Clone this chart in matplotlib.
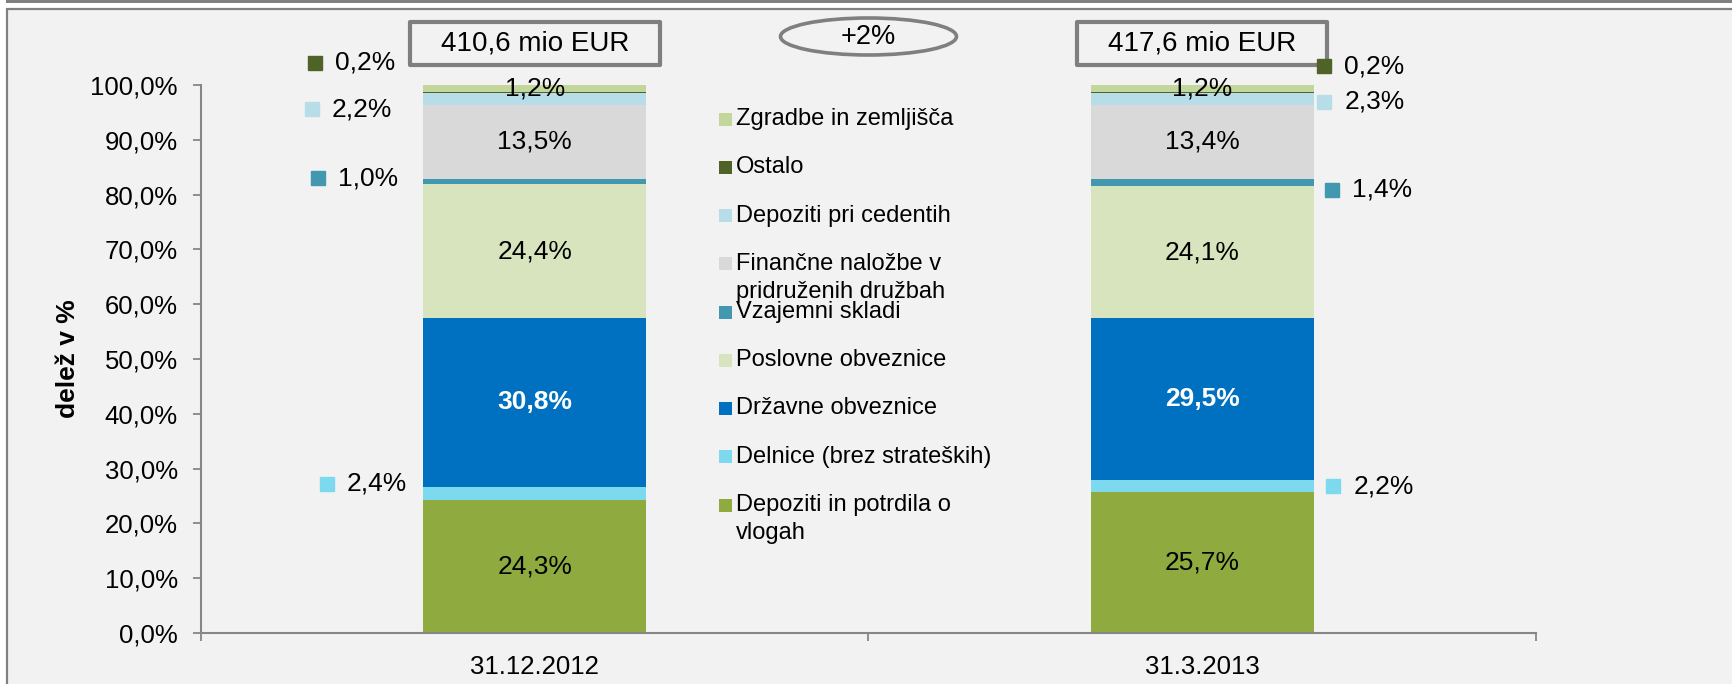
import numpy as np
import matplotlib.pyplot as plt
import matplotlib.transforms as mtransforms
from matplotlib.patches import Rectangle, Ellipse

plt.rcParams['font.family'] = ['Liberation Sans', 'DejaVu Sans']

# --- data (stack order: bottom -> top) ---
dates = ["31.12.2012", "31.3.2013"]
totals = ["410,6 mio EUR", "417,6 mio EUR"]
growth = "+2%"

series = ["Depoziti in potrdila o\nvlogah",
          "Delnice (brez strateških)",
          "Državne obveznice",
          "Poslovne obveznice",
          "Vzajemni skladi",
          "Finančne naložbe v\npridruženih družbah",
          "Depoziti pri cedentih",
          "Ostalo",
          "Zgradbe in zemljišča"]
dec_2012 = [24.3, 2.4, 30.8, 24.4, 1.0, 13.5, 2.2, 0.2, 1.2]
mar_2013 = [25.7, 2.2, 29.5, 24.1, 1.4, 13.4, 2.3, 0.2, 1.2]
colors = ["#8FAA3F", "#7DD9EE", "#0070C0", "#D7E4BD", "#4198AF",
          "#D9D9D9", "#B7DEE8", "#4F6228", "#C3D69B"]

# which segments get the label inside the bar
inside = [0, 2, 3, 5, 8]
bold_white = [2]
# outside labels: series index -> (x offset from bar centre in px, y level in %)
outside_pos = [
    {7: (-220, 104.1), 6: (-223, 95.6), 4: (-217, 83.0), 1: (-208, 27.2)},
    {7: (122, 103.4), 6: (122, 96.9), 4: (130, 80.9), 1: (131, 26.8)},
]

W, H = 1733, 684
fig = plt.figure(figsize=(W / 100, H / 100), dpi=100, facecolor="white")


def fx(px):
    return px / W


def fy(py):
    return 1 - py / H


# frame decoration (behind everything)
fig.add_artist(Rectangle((fx(6), fy(3.3)), fx(W), 3.3 / H, transform=fig.transFigure,
                         facecolor="#808080", edgecolor="none", zorder=-10))
fig.add_artist(Rectangle((fx(7), -0.05), fx(W), fy(9) + 0.05, transform=fig.transFigure,
                         facecolor="#F2F2F2", edgecolor="#808080", linewidth=1.6,
                         zorder=-10))

ax = fig.add_axes([fx(201), fy(633), fx(1536) - fx(201), fy(85) - fy(633)])
ax.set_facecolor("none")

x = np.arange(len(dates))
values = [dec_2012, mar_2013]
bar_w = 0.334
px_per_unit = (1536 - 201) / 2

bottoms = np.zeros(len(dates))
for s in range(len(series)):
    vals = np.array([values[0][s], values[1][s]])
    ax.bar(x, vals, width=bar_w, bottom=bottoms, color=colors[s], linewidth=0, zorder=2)
    for i in range(len(dates)):
        lab = f"{vals[i]:.1f}%".replace(".", ",")
        if s in inside:
            ax.text(x[i], bottoms[i] + vals[i] / 2, lab, ha="center", va="center",
                    fontsize=19, zorder=4,
                    color="white" if s in bold_white else "black",
                    fontweight="bold" if s in bold_white else "normal")
        else:
            dx, ylev = outside_pos[i][s]
            mx = x[i] + dx / px_per_unit
            ax.plot([mx], [ylev], marker="s", ms=9.5, color=colors[s],
                    linestyle="none", clip_on=False, zorder=4)
            ax.text(mx + 20 / px_per_unit, ylev, lab, ha="left", va="center",
                    fontsize=19, clip_on=False, zorder=4)
    bottoms += vals

ax.set_xlim(-0.5, 1.5)
ax.set_ylim(0, 100)
yt = np.arange(0, 101, 10)
ax.set_yticks(yt)
ax.set_yticklabels([f"{v:.1f}%".replace(".", ",") for v in yt])
ax.set_xticks(x)
ax.set_xticklabels(dates)
ax.set_xticks([-0.5, 0.5, 1.5], minor=True)

for side in ["top", "right"]:
    ax.spines[side].set_visible(False)
for side in ["left", "bottom"]:
    ax.spines[side].set_color("#868686")
    ax.spines[side].set_linewidth(1.5)

ax.tick_params(axis="y", direction="out", length=5.8, width=1.3, color="#868686",
               labelsize=18.5, pad=11)
ax.tick_params(axis="x", which="major", length=0, labelsize=18.5, pad=16)
ax.tick_params(axis="x", which="minor", direction="out", length=5.8, width=1.3,
               color="#868686")

ax.set_ylabel("delež v %", fontsize=19, fontweight="bold")
ax.yaxis.set_label_coords((80 - 201) / (1536 - 201), 0.5)

# total boxes above bars and growth ellipse
trans = mtransforms.blended_transform_factory(ax.transData, fig.transFigure)
box_w = 250 / px_per_unit
for i in range(len(dates)):
    ax.add_artist(Rectangle((x[i] - box_w / 2, fy(65)), box_w, 43 / H, transform=trans,
                            facecolor="#F2F2F2", edgecolor="#7F7F7F", linewidth=3,
                            joinstyle="round", clip_on=False))
    ax.text(x[i], fy(43.5), totals[i], transform=trans, ha="center", va="center",
            fontsize=20, clip_on=False)

ax.add_artist(Ellipse((0.5, fy(36.5)), 176 / px_per_unit, 37 / H, transform=trans,
                      facecolor="#F2F2F2", edgecolor="#7F7F7F", linewidth=2.6,
                      clip_on=False))
ax.text(0.5, fy(37), growth, transform=trans, ha="center", va="center",
        fontsize=19.5, clip_on=False)

# legend drawn as a column (top entry = top of stack)
for k, s in enumerate(reversed(range(len(series)))):
    cy = 119 + k * 48.25
    fig.add_artist(Rectangle((fx(719), fy(cy + 6.5)), 13 / W, 13 / H,
                             transform=fig.transFigure, facecolor=colors[s],
                             edgecolor="none"))
    for j, line in enumerate(series[s].split("\n")):
        fig.text(fx(736), fy(cy + j * 28), line, ha="left", va="center",
                 fontsize=17, color="black")

fig.savefig("out.png", dpi=100, facecolor=fig.get_facecolor())
